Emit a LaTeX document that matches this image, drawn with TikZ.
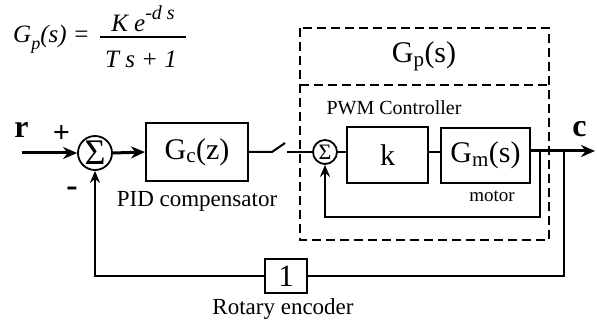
\documentclass[tikz,border=0pt]{standalone}
\usepackage{fontspec}
\setmainfont{Liberation Serif}
\usetikzlibrary{arrows.meta}
\begin{document}
\begin{tikzpicture}[x=1pt,y=-1pt,
  box/.style={draw, line width=2pt, inner sep=0pt, font=\fontsize{30}{34}\selectfont},
  sumnode/.style={draw, circle, line width=1.8pt, inner sep=0pt},
  thickline/.style={line width=3pt},
  thinline/.style={line width=2pt},
  tip/.style={-{Stealth[length=14pt,width=12pt,inset=4.5pt]}},
  smalltip/.style={-{Stealth[length=12pt,width=10pt,inset=4pt]}},
  lbl/.style={font=\fontsize{23}{26}\selectfont},
  smalllbl/.style={font=\fontsize{20}{22}\selectfont},
  sign/.style={font=\bfseries\fontsize{32}{34}\selectfont, inner sep=0pt},
  dashbox/.style={line width=2.8pt, dash pattern=on 9pt off 5pt},
  formula/.style={font=\itshape\fontsize{25}{28}\selectfont, inner sep=0pt}
]
\useasboundingbox (0,0) rectangle (597,320);

% formula
\node[formula, anchor=base west] (fl) at (13,43) {G\raisebox{-0.25em}{\fontsize{18}{20}\selectfont p}(s) =};
\node[formula, anchor=base] (fn) at (143,32) {K e\raisebox{0.5em}{\fontsize{20}{22}\selectfont -d s}};
\node[formula, anchor=base] (fd) at (141,68) {T s + 1};
\coordinate (fb1) at (100,37);
\coordinate (fb2) at (186,37);
\draw[line width=1.3pt] (fb1) -- (fb2);

% dashed plant box
\coordinate (d1) at (300,28);
\coordinate (d2) at (549,240);
\coordinate (dm1) at (300,85);
\coordinate (dm2) at (549,85);
\draw[dashbox] (d1) rectangle (d2);
\draw[dashbox] (dm1) -- (dm2);
\node[font=\fontsize{30}{34}\selectfont, anchor=base] (gp) at (424,63) {G\textsubscript{p}(s)};
\node[smalllbl, anchor=base] (pwm) at (394,115) {PWM Controller};

% blocks
\node[sumnode, minimum size=34pt] (s1) at (95,153) {};
\node[font=\fontsize{36}{38}\selectfont, inner sep=0pt] (s1t) at (s1.center) {Σ};
\node[box, minimum width=102pt, minimum height=58pt] (gc) at (197,152) {G\textsubscript{c}(z)};
\node[sumnode, minimum size=24pt] (s2) at (325,152) {};
\node[font=\fontsize{22}{24}\selectfont, inner sep=0pt] (s2t) at (s2.center) {Σ};
\node[box, minimum width=81pt, minimum height=56pt] (k) at (387.5,155) {k};
\node[box, minimum width=89pt, minimum height=55pt] (gm) at (485.5,155.5) {G\textsubscript{m}(s)};
\node[box, minimum width=42pt, minimum height=34pt, font=\fontsize{31}{34}\selectfont] (e1) at (286,276) {1};

% labels
\node[sign, anchor=base] (r) at (21.5,138) {r};
\node[sign, anchor=base] (c) at (579.5,137) {c};
\node[sign, font=\bfseries\fontsize{30}{32}\selectfont] (plus) at (61.5,134) {+};
\node[sign, font=\bfseries\fontsize{34}{36}\selectfont] (minus) at (72,192) {-};
\node[lbl, anchor=base] (pid) at (197,207) {PID compensator};
\node[lbl, anchor=base] (enc) at (283,315) {Rotary encoder};
\node[font=\fontsize{19}{21}\selectfont, anchor=base] (mot) at (492,202) {motor};

% connectors
\coordinate (rin) at (22,153);
\draw[thickline, tip] (rin) -- (s1.west);
\draw[thickline, tip] (s1.east) -- (gc.west);

\coordinate (sw1) at (272,152);
\coordinate (sw2) at (285,143);
\coordinate (sw3) at (287,152);
\draw[thinline] (gc.east) -- (sw1) -- (sw2);
\draw[thinline] (sw3) -- (s2.west);
\draw[thinline] (s2.east) -- (s2.east -| k.west);
\draw[thinline] (k.east |- s2) -- (gm.west |- s2);

\coordinate (cend) at (595,151);
\draw[thickline, tip] (gm.east |- cend) -- (cend);

\coordinate (fi) at (540,151);
\coordinate (fib) at (540,217);
\draw[line width=2.6pt, smalltip] (fi) -- (fib) -| (s2.south);

\coordinate (fo) at (564,151);
\draw[thinline] (fo) |- (e1.east);
\draw[thinline, smalltip] (e1.west) -| (s1.south);
\end{tikzpicture}
\end{document}
